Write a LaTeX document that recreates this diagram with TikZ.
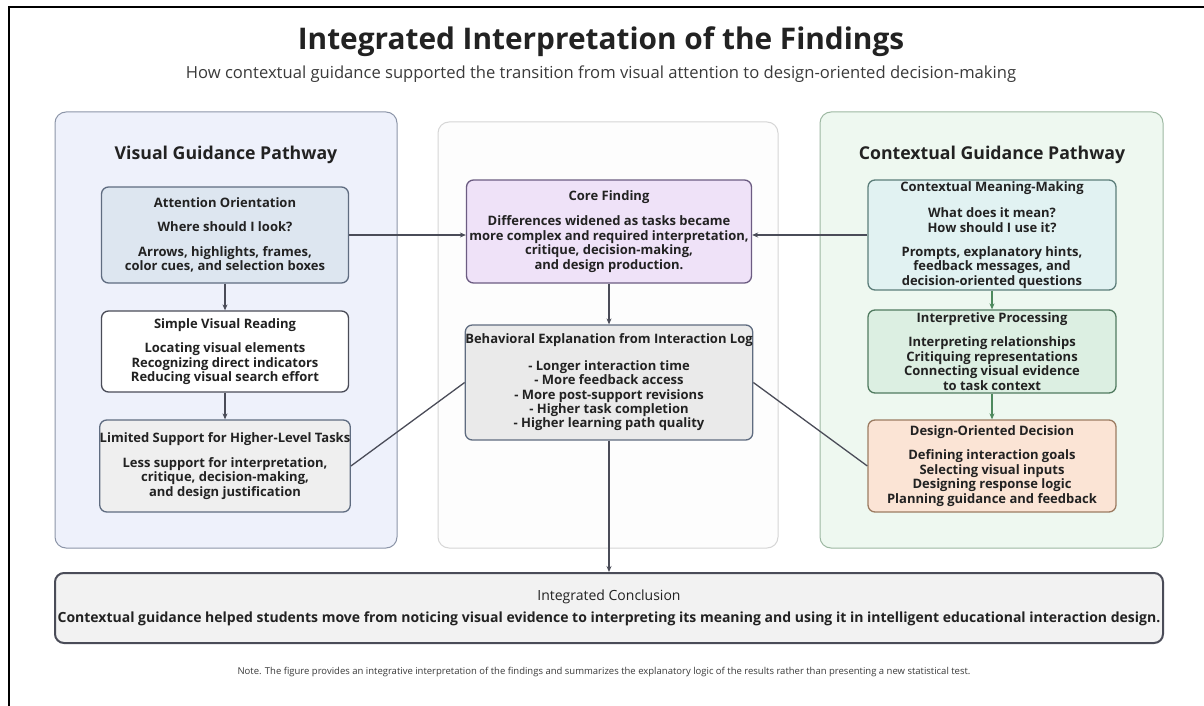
\documentclass[tikz,border=0pt]{standalone}
\usepackage{fontspec}
\setmainfont{Open Sans}
\usepackage{tikz}
\usetikzlibrary{arrows.meta,positioning}

\definecolor{txt}{HTML}{222222}
\definecolor{subtxt}{HTML}{3A3A3A}
\definecolor{lncol}{HTML}{4A4C58}
\definecolor{grn}{HTML}{4E8A5E}
\definecolor{visfill}{HTML}{EEF1FB}
\definecolor{visdraw}{HTML}{8C95A8}
\definecolor{midfill}{HTML}{FDFDFD}
\definecolor{middraw}{HTML}{D6D6D6}
\definecolor{ctxfill}{HTML}{EEF8F0}
\definecolor{ctxdraw}{HTML}{9DB8A2}
\definecolor{attfill}{HTML}{DDE6F0}
\definecolor{attdraw}{HTML}{5F6C80}
\definecolor{limfill}{HTML}{EFEFEF}
\definecolor{corefill}{HTML}{EFE2F8}
\definecolor{coredraw}{HTML}{6C5C82}
\definecolor{behfill}{HTML}{EAEAEA}
\definecolor{cmmfill}{HTML}{E1F2F2}
\definecolor{cmmdraw}{HTML}{5C7E7A}
\definecolor{ipfill}{HTML}{DCEFE2}
\definecolor{ipdraw}{HTML}{517B60}
\definecolor{dodfill}{HTML}{FBE4D5}
\definecolor{doddraw}{HTML}{9C7C62}
\definecolor{conclfill}{HTML}{F2F2F2}

\begin{document}
\begin{tikzpicture}[
    x=1pt, y=-1pt,
    every node/.style={font=\fontsize{13}{14.4}\selectfont\bfseries, text=txt},
    pnl/.style={draw, rounded corners=11pt, line width=1pt},
    bx/.style={draw, rounded corners=7pt, line width=1.3pt, align=center, inner sep=0pt},
    hd/.style={font=\fontsize{17.7}{21}\selectfont\bfseries},
    ln/.style={line width=1.3pt, draw=lncol},
    arr/.style={ln, -{Stealth[length=6pt, width=5pt]}},
]
\useasboundingbox (0,0) rectangle (1204,706);
\fill[white] (0,0) rectangle (1204,706);
\draw[line width=2.5pt] (9,706) -- (9,7) -- (1204,7);

% heading
\node[font=\fontsize{29.8}{34}\selectfont\bfseries] (title) at (601,42) {Integrated Interpretation of the Findings};
\node[font=\fontsize{16.6}{20}\selectfont, text=subtxt] (sub) at (601,74) {How contextual guidance supported the transition from visual attention to design-oriented decision-making};

% panels
\node[pnl, fill=visfill, draw=visdraw, minimum width=342pt, minimum height=436pt] (vispnl) at (226,330) {};
\node[pnl, fill=midfill, draw=middraw, minimum width=340pt, minimum height=426pt] (midpnl) at (608,335) {};
\node[pnl, fill=ctxfill, draw=ctxdraw, minimum width=343pt, minimum height=436pt] (ctxpnl) at (991.5,330) {};
\node[hd] (vishd) at (226,155) {Visual Guidance Pathway};
\node[hd] (ctxhd) at (992,155) {Contextual Guidance Pathway};

% visual pathway
\node[bx, fill=attfill, draw=attdraw, minimum width=247pt, minimum height=96pt] (att) at (225,235)
    {Attention Orientation\\[10pt]Where should I look?\\[10pt]Arrows, highlights, frames,\\color cues, and selection boxes};
\node[bx, fill=white, draw=lncol, minimum width=247pt, minimum height=81pt] (svr) at (225,351.5)
    {Simple Visual Reading\\[10pt]Locating visual elements\\Recognizing direct indicators\\Reducing visual search effort};
\node[bx, fill=limfill, draw=attdraw, minimum width=247pt, minimum height=92pt] (lim) at (225,466)
    {Limited Support for Higher-Level Tasks\\[10pt]Less support for interpretation,\\critique, decision-making,\\and design justification};

% middle column
\node[bx, fill=corefill, draw=coredraw, minimum width=285pt, minimum height=103pt] (core) at (609,231.5)
    {Core Finding\\[11pt]Differences widened as tasks became\\more complex and required interpretation,\\critique, decision-making,\\and design production.};
\node[bx, fill=behfill, draw=attdraw, minimum width=285pt, minimum height=115pt] (beh) at (609,382.5)
    {Behavioral Explanation from Interaction Log\\[12pt]- Longer interaction time\\- More feedback access\\- More post-support revisions\\- Higher task completion\\- Higher learning path quality};

% contextual pathway
\node[bx, fill=cmmfill, draw=cmmdraw, minimum width=248pt, minimum height=110pt] (cmm) at (992,235)
    {Contextual Meaning-Making\\[12pt]What does it mean?\\How should I use it?\\[10pt]Prompts, explanatory hints,\\feedback messages, and\\decision-oriented questions};
\node[bx, fill=ipfill, draw=ipdraw, minimum width=248pt, minimum height=83pt] (ip) at (992,351.5)
    {Interpretive Processing\\[10pt]Interpreting relationships\\Critiquing representations\\Connecting visual evidence\\to task context};
\node[bx, fill=dodfill, draw=doddraw, minimum width=248pt, minimum height=92pt] (dod) at (992,466)
    {Design-Oriented Decision\\[10pt]Defining interaction goals\\Selecting visual inputs\\Designing response logic\\Planning guidance and feedback};

% conclusion and note
\node[bx, fill=conclfill, draw=lncol, line width=2pt, rounded corners=9pt, minimum width=1108pt, minimum height=70pt,
    font=\fontsize{14}{22}\selectfont\bfseries] (concl) at (609,608)
    {{\mdseries Integrated Conclusion}\\Contextual guidance helped students move from noticing visual evidence to interpreting its meaning and using it in intelligent educational interaction design.};
\node[font=\fontsize{9.5}{11}\selectfont, text=subtxt] (note) at (604,672)
    {Note. The figure provides an integrative interpretation of the findings and summarizes the explanatory logic of the results rather than presenting a new statistical test.};

% connectors
\draw[arr] (att) -- (svr);
\draw[arr] (svr) -- (lim);
\draw[arr] (att.east) -- (att.east -| core.west);
\draw[arr] (cmm.west) -- (cmm.west -| core.east);
\draw[arr] (core) -- (beh);
\draw[ln] (lim.east) -- (beh.west);
\draw[ln] (beh.east) -- (dod.west);
\draw[arr] (beh) -- (concl);
\draw[arr, draw=grn] (cmm) -- (ip);
\draw[arr, draw=grn] (ip) -- (dod);
\end{tikzpicture}
\end{document}
